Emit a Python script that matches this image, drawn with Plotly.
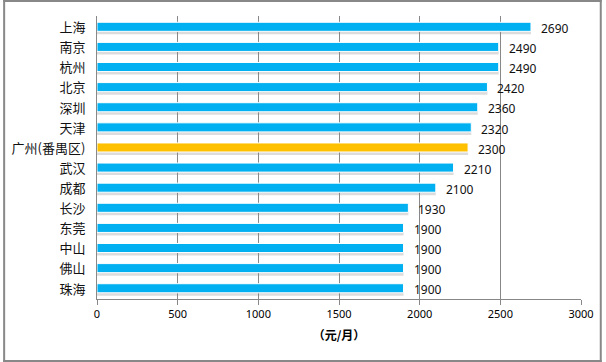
import plotly.graph_objects as go

cities = ["上海", "南京", "杭州", "北京", "深圳", "天津", "广州(番禺区)", "武汉", "成都", "长沙", "东莞", "中山", "佛山", "珠海"]
wages = [2690, 2490, 2490, 2420, 2360, 2320, 2300, 2210, 2100, 1930, 1900, 1900, 1900, 1900]
highlight = "广州(番禺区)"
x_ticks = [0, 500, 1000, 1500, 2000, 2500, 3000]

colors = ["#FFC000" if c == highlight else "#00B0F0" for c in cities]

W, H = 606, 362
L, R, T, B = 95, 21, 16, 63
pw, ph = W - L - R, H - T - B

fig = go.Figure()
# subtle shadow
fig.add_trace(go.Bar(
    y=cities, x=wages, orientation="h", width=0.5, offset=-0.16,
    marker=dict(color="rgba(140,140,140,0.3)", line=dict(width=0)),
    hoverinfo="skip", showlegend=False,
))
fig.add_trace(go.Bar(
    y=cities, x=wages, orientation="h", width=0.45, offset=-0.26,
    marker=dict(color=colors, line=dict(color="white", width=1)),
    showlegend=False,
))

annotations = [
    dict(x=v, y=c, xref="x", yref="y", text=str(v), showarrow=False,
         xanchor="left", yanchor="middle", xshift=8, yshift=-1,
         font=dict(family="Noto Sans, DejaVu Sans", size=12, color="#111111"))
    for c, v in zip(cities, wages)
]

fig.update_layout(
    width=W, height=H, barmode="overlay",
    margin=dict(l=L, r=R, t=T, b=B),
    paper_bgcolor="white", plot_bgcolor="white",
    font=dict(family="Noto Sans CJK SC", color="#000000"),
    annotations=annotations,
    xaxis=dict(
        range=[0, 3000], tickvals=x_ticks, ticktext=[str(v) for v in x_ticks],
        showgrid=True, gridcolor="#888888", gridwidth=1,
        showline=True, linecolor="#888888", linewidth=1,
        ticks="outside", ticklen=5, tickcolor="#888888",
        tickfont=dict(family="Noto Sans, DejaVu Sans", size=11, color="#000000"),
        title=dict(text="<b>（元/月）</b>", font=dict(family="Noto Sans CJK SC", size=12, color="#000000"), standoff=11),
        zeroline=False,
    ),
    yaxis=dict(
        autorange="reversed", showgrid=False,
        showline=True, linecolor="#888888", linewidth=1,
        ticks="outside", ticklen=0, ticklabelstandoff=8,
        tickfont=dict(family="Noto Sans CJK SC", size=13, color="#111111"),
    ),
    shapes=[
        dict(type="line", xref="paper", yref="paper",
             x0=(0 - L) / pw, x1=(W - L) / pw,
             y0=(T + ph - 1) / ph, y1=(T + ph - 1) / ph,
             line=dict(color="#888888", width=2), layer="above"),
        dict(type="line", xref="paper", yref="paper",
             x0=(0 - L) / pw, x1=(W - L) / pw,
             y0=-(H - 1 - (T + ph)) / ph, y1=-(H - 1 - (T + ph)) / ph,
             line=dict(color="#888888", width=2), layer="above"),
        dict(type="line", xref="paper", yref="paper",
             x0=(1 - L) / pw, x1=(1 - L) / pw,
             y0=(T + ph) / ph, y1=-(H - (T + ph)) / ph,
             line=dict(color="#888888", width=2), layer="above"),
        dict(type="line", xref="paper", yref="paper",
             x0=(W - 1 - L) / pw, x1=(W - 1 - L) / pw,
             y0=(T + ph) / ph, y1=-(H - (T + ph)) / ph,
             line=dict(color="#888888", width=2), layer="above"),
    ],
)

fig.write_html("out.html", config={"displayModeBar": False},
               post_script="document.body.style.margin='0';document.documentElement.style.overflow='hidden';window.scrollTo(0,0);")
